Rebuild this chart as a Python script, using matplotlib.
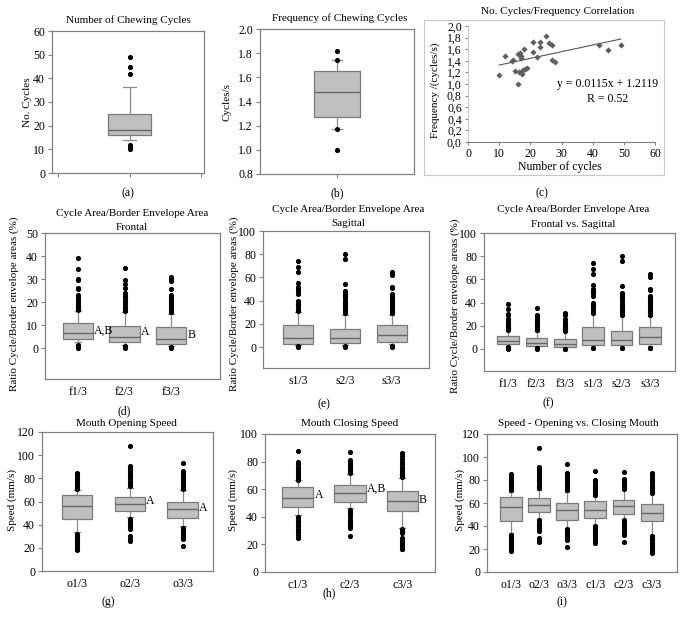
import matplotlib
matplotlib.use("Agg")
import matplotlib.pyplot as plt
import numpy as np
from matplotlib.patches import Rectangle

plt.rcParams['font.family'] = ['Liberation Serif', 'DejaVu Serif']
plt.rcParams['font.size'] = 8.5

W, H = 685, 624

# ---------------- data ----------------
# (a) number of chewing cycles
cycles_stats = dict(q1=16, med=18, q3=25, whislo=14, whishi=36.5)
cycles_fliers = [49, 45, 42, 12, 11, 10]

# (b) frequency of chewing cycles
freq_stats = dict(q1=1.27, med=1.48, q3=1.65, whislo=1.17, whishi=1.74)
freq_fliers = [1.82, 1.74, 1.17, 1.0]

# (c) correlation scatter
corr_x = [10, 12, 14, 14.3, 15, 16, 16, 16.7, 17, 17, 16.4, 17, 17.2, 17.7, 18.4,
          19, 18, 21, 21, 22, 23, 23, 25, 26, 27, 27, 28, 42, 45, 49]
corr_y = [1.16, 1.48, 1.39, 1.42, 1.22, 1.0, 1.51, 1.54, 1.48, 1.45, 1.21, 1.2, 1.17, 1.24, 1.26,
          1.28, 1.61, 1.73, 1.56, 1.46, 1.64, 1.73, 1.82, 1.71, 1.67, 1.42, 1.38, 1.67, 1.58, 1.68]
trend_slope = 0.0115
trend_intercept = 1.2119

# (d) frontal ratio
frontal_labels = ['f1/3', 'f2/3', 'f3/3']
frontal_q1 = [4, 2.5, 2]
frontal_med = [6.5, 5, 4]
frontal_q3 = [11, 9.5, 9]
frontal_lo = [2.5, 1.5, 0.8]
frontal_hi = [16, 15.5, 15]
frontal_fliers = [
    [39, 34.5, 30, 29.5, 26, 25.5, 23, 22, 21, 20, 19.5, 19, 18.5, 18, 17.5, 17, 16.5, 1.5, 1, 0.5, 0],
    [35, 29.5, 28, 26, 24, 22.5, 22, 21, 20, 19, 18, 17.5, 17, 16.5, 16, 1, 0.5, 0],
    [31, 30, 29, 25.5, 23, 22, 21.5, 21, 20, 19.5, 19, 18.5, 18, 17.5, 17, 16.5, 16, 15.5, 0.3, 0],
]
frontal_marks = ['A,B', 'A', 'B']
frontal_mark_y = [7.6, 6.8, 5.8]

# (e) sagittal ratio
sagittal_labels = ['s1/3', 's2/3', 's3/3']
sagittal_q1 = [3, 3.5, 4]
sagittal_med = [8, 8, 10]
sagittal_q3 = [19, 15.5, 19]
sagittal_lo = [2, 2, 2.5]
sagittal_hi = [30, 28, 28]
sagittal_fliers = [
    [74, 69, 65, 55, 52, 50, 48, 46, 40, 39, 38, 37, 36, 35, 33, 32, 31, 1, 0.5],
    [80, 76, 54, 48, 47, 46, 45, 44, 42, 40, 38, 36, 35, 34, 33, 32, 30, 29, 1, 0.5],
    [65, 62, 52, 51, 46, 45, 44, 43, 42, 41, 40, 39, 38, 36, 35, 34, 33, 32, 31, 30, 29, 1, 0.5],
]

# (g) opening speed
opening_labels = ['o1/3', 'o2/3', 'o3/3']
opening_q1 = [44.5, 52, 45.5]
opening_med = [56.5, 58, 53.5]
opening_q3 = [65.5, 64, 60]
opening_lo = [33.5, 46.5, 38.5]
opening_hi = [70, 71.5, 70]
opening_fliers = [
    [85, 84, 82, 80, 79, 78, 77, 76, 75, 74, 73, 72, 71,
     32, 31, 30, 29, 28, 27, 26, 25, 24, 23, 22, 21, 20, 19, 18],
    [108, 91, 90, 89, 88, 87, 86, 85, 84, 83, 82, 80, 78, 76, 74, 73,
     45, 43, 42, 41, 40, 39, 38, 37, 36, 30, 28, 26],
    [93.5, 86, 85, 84, 83, 82, 80, 78, 77, 76, 74, 73, 72, 71,
     37, 36, 35, 34, 33, 32, 31, 30, 29, 28, 21.5],
]
opening_marks = ['', 'A', 'A']
opening_mark_y = [0, 60, 54.6]

# (h) closing speed
closing_labels = ['c1/3', 'c2/3', 'c3/3']
closing_q1 = [47, 50.5, 44]
closing_med = [53.5, 57, 51.5]
closing_q3 = [61.5, 63, 59]
closing_lo = [41, 46.5, 32]
closing_hi = [66.5, 71, 68]
closing_fliers = [
    [88, 80, 78, 76, 75, 74, 73, 72, 71, 70, 69, 68, 67,
     40, 39, 38, 37, 36, 34, 33, 31, 30, 29, 27, 26, 25],
    [87, 81, 80, 79, 78, 77, 76, 75, 74, 73, 72,
     45, 44, 43, 42, 40, 38, 36, 35, 33, 32, 26],
    [86, 84, 82, 80, 78, 76, 75, 74, 73, 72, 71, 70, 69,
     31, 30, 29, 28, 25, 24, 23, 22, 21, 20, 19, 18, 17, 16.5],
]
closing_marks = ['A', 'A,B', 'B']
closing_mark_y = [55.7, 60, 52.5]

# ---------------- style ----------------
BOX_FACE = '#c0c0c0'
BOX_EDGE = '#7a7a7a'
MED_COL = '#666666'
WHISK_COL = '#8a8a8a'
SPINE_COL = '#808080'
TITLE_FS = 8.0
YLAB_FS = 8.0
XPAD = 5

fig = plt.figure(figsize=(W / 100, H / 100), dpi=100)


def add_ax(x0, y0, x1, y1):
    return fig.add_axes([x0 / W, 1 - y1 / H, (x1 - x0) / W, (y1 - y0) / H])


def ftext(x, y, s, **kw):
    kw.setdefault('ha', 'center')
    kw.setdefault('va', 'center')
    fig.text(x / W, 1 - y / H, s, **kw)


def make_stats(q1, med, q3, lo, hi, fl):
    return [dict(q1=a, med=b, q3=c, whislo=d, whishi=e, fliers=f)
            for a, b, c, d, e, f in zip(q1, med, q3, lo, hi, fl)]


def style_ax(ax):
    for s in ax.spines.values():
        s.set_color(SPINE_COL)
        s.set_linewidth(0.9)
    ax.tick_params(axis='both', direction='out', length=3, width=0.8, color=SPINE_COL,
                   labelsize=8.5, pad=2)


def draw_box(ax, stats, positions, width, capw):
    ax.bxp(stats, positions=positions, widths=width, patch_artist=True,
           capwidths=capw,
           boxprops=dict(facecolor=BOX_FACE, edgecolor=BOX_EDGE, linewidth=0.9),
           medianprops=dict(color=MED_COL, linewidth=1.0),
           whiskerprops=dict(color=WHISK_COL, linewidth=0.9),
           capprops=dict(color=WHISK_COL, linewidth=0.9),
           flierprops=dict(marker='o', markerfacecolor='black', markeredgecolor='black',
                           markersize=2.7, linestyle='none'),
           manage_ticks=False)


def cat_axis(ax, labels):
    ax.set_xticks(range(1, len(labels) + 1))
    ax.set_xticklabels(labels)
    ax.tick_params(axis='x', length=0, pad=XPAD)


# ---------------- (a) ----------------
ax = add_ax(52, 31, 204, 173)
style_ax(ax)
draw_box(ax, [dict(cycles_stats, fliers=cycles_fliers)], [1], 0.6, 0.18)
ax.set_xlim(-0.085, 2.04)
ax.set_ylim(0, 60)
ax.set_yticks(np.arange(0, 61, 10))
ax.set_xticks([0, 1, 2])
ax.set_xticklabels([])
ftext(128, 20, 'Number of Chewing Cycles', fontsize=TITLE_FS)
ftext(27, 102, 'No. Cycles', rotation=90, fontsize=YLAB_FS)
ftext(128, 193, '(a)')

# ---------------- (b) ----------------
ax = add_ax(260, 29, 414, 174)
style_ax(ax)
draw_box(ax, [dict(freq_stats, fliers=freq_fliers)], [1], 0.3, 0.06)
ax.set_xlim(0.5, 1.5)
ax.set_ylim(0.8, 2.0)
fb = np.arange(0.8, 2.01, 0.2)
ax.set_yticks(fb)
ax.set_yticklabels([f'{v:.1f}' for v in fb])
ax.set_xticks([1])
ax.set_xticklabels([])
ftext(340, 18, 'Frequency of Chewing Cycles', fontsize=TITLE_FS)
ftext(227, 102, 'Cycles/s', rotation=90, fontsize=YLAB_FS)
ftext(337, 193, '(b)')

# ---------------- (c) ----------------
fig.add_artist(Rectangle((424 / W, 1 - 175 / H), 240 / W, 155 / H, transform=fig.transFigure,
                         fill=False, edgecolor='#c8c8c8', linewidth=0.8))
ax = add_ax(468, 26, 655, 142)
for k in ['top', 'right']:
    ax.spines[k].set_visible(False)
ax.spines['left'].set_color('#c8c8c8')
ax.spines['bottom'].set_color(SPINE_COL)
ax.spines['left'].set_linewidth(0.8)
ax.spines['bottom'].set_linewidth(0.8)
ax.tick_params(axis='both', direction='out', length=2.5, width=0.7, color=SPINE_COL,
               labelsize=8.5, pad=2)
ax.scatter(corr_x, corr_y, marker='D', s=10, color='#5f5f5f', linewidths=0, zorder=3)
tx = np.array([min(corr_x), max(corr_x)])
ax.plot(tx, trend_slope * tx + trend_intercept, color='#555555', linewidth=0.8)
ax.set_xlim(0, 60)
ax.set_ylim(0, 2.0)
ax.set_xticks(np.arange(0, 61, 10))
yt = np.arange(0, 2.01, 0.2)
ax.set_yticks(yt)
ax.set_yticklabels([f'{v:.1f}'.replace('.', ',') for v in yt])
ftext(608, 84, f'y = {trend_slope}x + {trend_intercept}')
ftext(608, 99, 'R = 0.52')
ftext(558, 12, 'No. Cycles/Frequency Correlation', fontsize=TITLE_FS)
ftext(435, 90, 'Frequency /(cycles/s)', rotation=90, fontsize=YLAB_FS)
ftext(560, 167, 'Number of cycles')
ftext(542, 193, '(c)')

# ---------------- (d) ----------------
fr_stats = make_stats(frontal_q1, frontal_med, frontal_q3, frontal_lo, frontal_hi, frontal_fliers)
ax = add_ax(45, 233, 220, 379)
style_ax(ax)
draw_box(ax, fr_stats, [1, 2, 3], 0.66, 0.12)
ax.set_xlim(0.29, 4.05)
ax.set_ylim(-13.4, 50)
ax.set_yticks(np.arange(0, 51, 10))
cat_axis(ax, frontal_labels)
for i, m in enumerate(frontal_marks):
    ax.text(i + 1 + 0.35, frontal_mark_y[i], m, ha='left', va='center', fontsize=8.5)
ftext(132, 213, 'Cycle Area/Border Envelope Area', fontsize=TITLE_FS)
ftext(132, 227, 'Frontal', fontsize=TITLE_FS)
ftext(14, 304, 'Ratio Cycle/Border envelope areas (%)', rotation=90, fontsize=YLAB_FS)
ftext(124, 411, '(d)')

# ---------------- (e) ----------------
sg_stats = make_stats(sagittal_q1, sagittal_med, sagittal_q3, sagittal_lo, sagittal_hi, sagittal_fliers)
ax = add_ax(263, 231, 429, 368)
style_ax(ax)
draw_box(ax, sg_stats, [1, 2, 3], 0.64, 0.12)
ax.set_xlim(0.25, 3.8)
ax.set_ylim(-18, 100)
ax.set_yticks(np.arange(0, 101, 20))
cat_axis(ax, sagittal_labels)
ftext(348, 210, 'Cycle Area/Border Envelope Area', fontsize=TITLE_FS)
ftext(348, 223, 'Sagittal', fontsize=TITLE_FS)
ftext(234, 304, 'Ratio Cycle/Border envelope areas (%)', rotation=90, fontsize=YLAB_FS)
ftext(324, 404, '(e)')

# ---------------- (f) ----------------
ax = add_ax(484, 233, 675, 371)
style_ax(ax)
draw_box(ax, fr_stats + sg_stats, [1, 2, 3, 4, 5, 6], 0.76, 0.14)
ax.set_xlim(0.15, 6.88)
ax.set_ylim(-19, 100)
ax.set_yticks(np.arange(0, 101, 20))
cat_axis(ax, frontal_labels + sagittal_labels)
ftext(573, 210, 'Cycle Area/Border Envelope Area', fontsize=TITLE_FS)
ftext(573, 224, 'Frontal vs. Sagittal', fontsize=TITLE_FS)
ftext(455, 306, 'Ratio Cycle/Border envelope areas (%)', rotation=90, fontsize=YLAB_FS)
ftext(548, 403, '(f)')

# ---------------- (g) ----------------
op_stats = make_stats(opening_q1, opening_med, opening_q3, opening_lo, opening_hi, opening_fliers)
ax = add_ax(42, 432, 213, 571)
style_ax(ax)
draw_box(ax, op_stats, [1, 2, 3], 0.58, 0.12)
ax.set_xlim(0.34, 3.57)
ax.set_ylim(0, 120)
ax.set_yticks(np.arange(0, 121, 20))
cat_axis(ax, opening_labels)
for i, m in enumerate(opening_marks):
    if m:
        ax.text(i + 1 + 0.31, opening_mark_y[i], m, ha='left', va='center', fontsize=8.5)
ftext(126, 423, 'Mouth Opening Speed', fontsize=TITLE_FS)
ftext(12, 500, 'Speed (mm/s)', rotation=90, fontsize=YLAB_FS)
ftext(108, 602, '(g)')

# ---------------- (h) ----------------
cl_stats = make_stats(closing_q1, closing_med, closing_q3, closing_lo, closing_hi, closing_fliers)
ax = add_ax(265, 434, 435, 572)
style_ax(ax)
draw_box(ax, cl_stats, [1, 2, 3], 0.6, 0.12)
ax.set_xlim(0.37, 3.63)
ax.set_ylim(0, 100)
ax.set_yticks(np.arange(0, 101, 20))
cat_axis(ax, closing_labels)
for i, m in enumerate(closing_marks):
    ax.text(i + 1 + 0.32, closing_mark_y[i], m, ha='left', va='center', fontsize=8.5)
ftext(350, 423, 'Mouth Closing Speed', fontsize=TITLE_FS)
ftext(233, 500, 'Speed (mm/s)', rotation=90, fontsize=YLAB_FS)
ftext(329, 593, '(h)')

# ---------------- (i) ----------------
ax = add_ax(487, 434, 677, 572)
style_ax(ax)
draw_box(ax, op_stats + cl_stats, [1, 2, 3, 4, 5, 6], 0.78, 0.14)
ax.set_xlim(0.15, 6.9)
ax.set_ylim(0, 120)
ax.set_yticks(np.arange(0, 121, 20))
cat_axis(ax, opening_labels + closing_labels)
ftext(578, 424, 'Speed - Opening vs. Closing Mouth', fontsize=TITLE_FS)
ftext(460, 500, 'Speed (mm/s)', rotation=90, fontsize=YLAB_FS)
ftext(562, 602, '(i)')

fig.savefig('out.png', dpi=100)
